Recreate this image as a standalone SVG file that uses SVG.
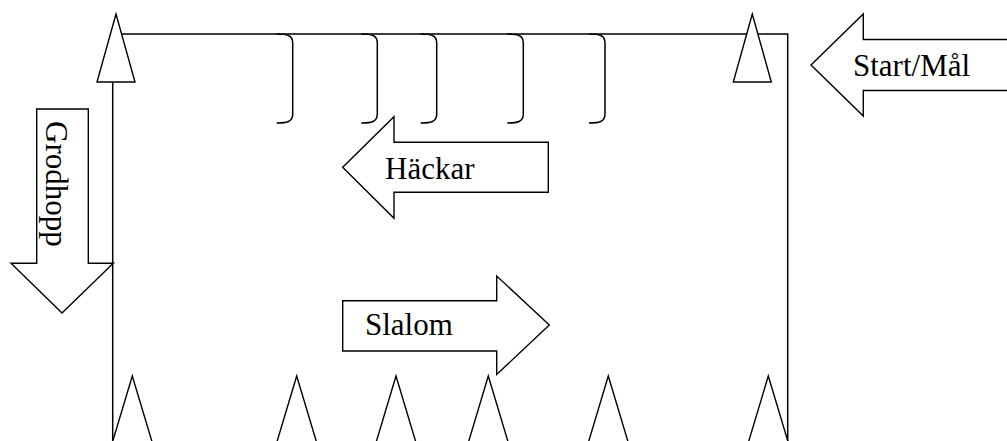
<svg xmlns="http://www.w3.org/2000/svg" width="1007" height="441" viewBox="0 0 1007 441">
<style>
.ln{fill:none;stroke:#000;stroke-width:1.5}
.sh{fill:#fff;stroke:#000;stroke-width:1.4;stroke-linejoin:miter}
.hd{fill:none;stroke:#000;stroke-width:1.5}
.tx{font-family:"Liberation Serif","Times New Roman",serif;font-size:31px;fill:#000}
</style>
<defs>
<path id="cone" d="M0,0 L-19,68 L19,68 Z"/>
<path id="cone2" d="M0,0 L-21,70 L21,70 Z"/>
<path id="hurdle" d="M-16,34 C-6,34 0,35 0,43 L0,114 C0,122 -6,123 -16,123"/>
</defs>
<g id="track">
<path class="ln" d="M116,34 L787.7,34 L787.7,441"/>
<path class="ln" d="M112.7,82 L112.7,441"/>
</g>
<g id="hurdles">
<use href="#hurdle" class="hd" x="292.7"/>
<use href="#hurdle" class="hd" x="377.3"/>
<use href="#hurdle" class="hd" x="436.7"/>
<use href="#hurdle" class="hd" x="523.3"/>
<use href="#hurdle" class="hd" x="605"/>
</g>
<g id="cone-start-left"><use href="#cone" class="sh" x="116" y="14"/></g>
<g id="cone-start-right"><use href="#cone" class="sh" x="752.3" y="14"/></g>
<g id="slalom-cones">
<use href="#cone2" class="sh" x="132.3" y="376"/>
<use href="#cone2" class="sh" x="296.7" y="376"/>
<use href="#cone2" class="sh" x="396" y="376"/>
<use href="#cone2" class="sh" x="488.3" y="376"/>
<use href="#cone2" class="sh" x="608.3" y="376"/>
<use href="#cone2" class="sh" x="768.3" y="376"/>
</g>
<g id="arrow-start">
<polygon class="sh" points="811,65 863.3,14 863.3,39.5 1012,39.5 1012,90.5 863.3,90.5 863.3,116"/>
<text class="tx" x="853" y="76">Start/Mål</text>
</g>
<g id="arrow-hackar">
<polygon class="sh" points="342.7,167.3 394,116.7 394,142.3 548.3,142.3 548.3,192.3 394,192.3 394,218.3"/>
<text class="tx" x="385" y="179">Häckar</text>
</g>
<g id="arrow-grodhopp">
<polygon class="sh" points="36.7,109 88.3,109 88.3,263.3 113.3,263.3 62,313 11,263.3 36.7,263.3"/>
<text class="tx" transform="translate(46,121) rotate(90)">Grodhopp</text>
</g>
<g id="arrow-slalom">
<polygon class="sh" points="342.7,300.7 496.7,300.7 496.7,276 549.3,325 496.7,374.5 496.7,351 342.7,351"/>
<text class="tx" x="365" y="335">Slalom</text>
</g>
</svg>
